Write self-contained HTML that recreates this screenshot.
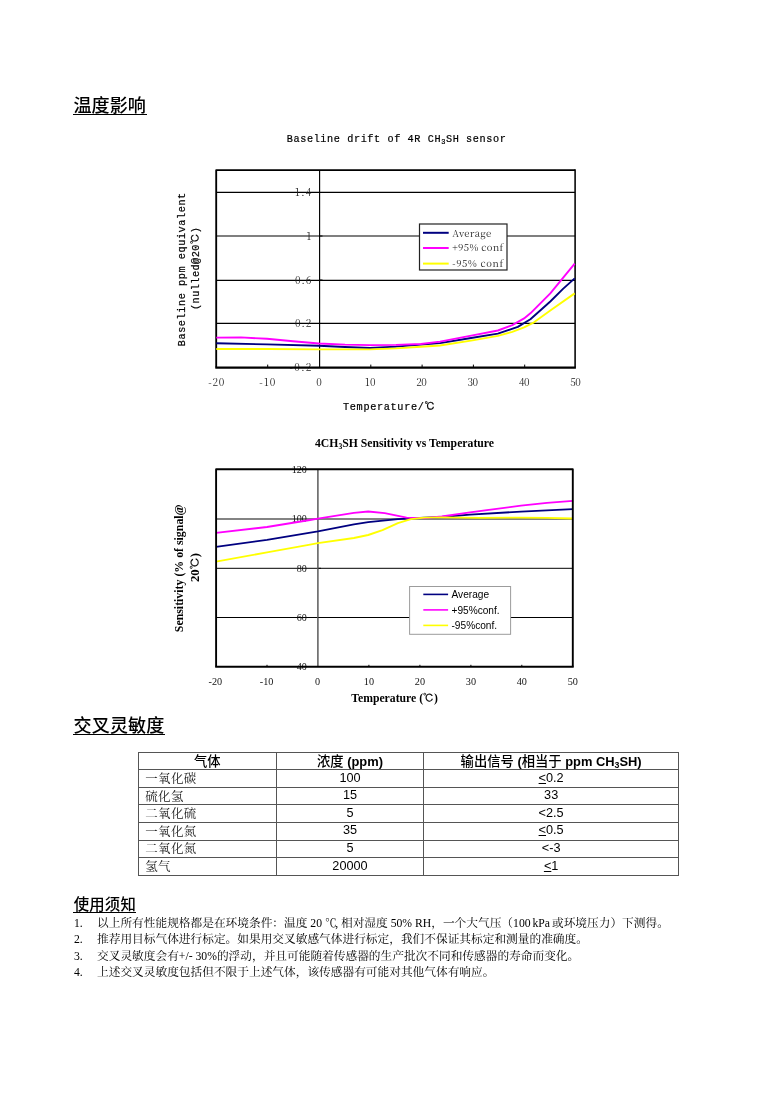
<!DOCTYPE html>
<html lang="zh-CN">
<head>
<meta charset="utf-8">
<title>温度影响</title>
<style>
html,body{margin:0;padding:0;background:#fff;}
body{width:774px;height:1095px;position:relative;overflow:hidden;color:#000;
  font-family:"Liberation Serif","Noto Serif CJK SC",serif;}
.h{position:absolute;white-space:nowrap;line-height:1;
  font-family:"Liberation Sans","Noto Sans CJK SC",sans-serif;font-weight:500;color:#000;}
.u{position:absolute;height:1px;background:#000;}
#h1{left:73.5px;top:97.3px;font-size:18.1px;}
#u1{left:73px;top:114px;width:74px;}
#h2{left:73.4px;top:717.1px;font-size:18.1px;letter-spacing:.15px;}
#u2{left:73px;top:734px;width:92px;}
#h3{left:73.7px;top:896.9px;font-size:15.4px;letter-spacing:.2px;}
#u3{left:73px;top:912px;width:63px;}
svg{position:absolute;left:0;top:0;}
.sng{font-family:"Noto Serif CJK SC",serif;font-weight:400;}
.mono{font-family:"Liberation Mono","Noto Serif CJK SC",monospace;}
.tms{font-family:"Liberation Serif","Noto Serif CJK SC",serif;}
.ari{font-family:"Liberation Sans","Noto Sans CJK SC",sans-serif;}
#tbl{position:absolute;left:0;top:0;}
#tbl i{position:absolute;display:block;background:#555;}
#tbl .hl{left:137.8px;width:541.2px;height:1px;}
#tbl .vl{top:751.7px;width:1px;height:124px;}
#tbl .c{position:absolute;height:17.57px;line-height:17.57px;text-align:center;white-space:nowrap;
  font-family:"Liberation Sans","Noto Sans CJK SC",sans-serif;font-size:12.7px;color:#000;}
#tbl .th{font-weight:700;margin-top:1.3px;font-size:12.9px;}
#tbl .th .z{font-weight:500;font-size:13.3px;}
#tbl .g{margin-top:.4px;}
#tbl .g{text-align:left;text-indent:7px;font-family:"Noto Serif CJK SC",serif;font-size:12.5px;letter-spacing:.3px;color:#1a1a1a;}
sub.s{font-size:68%;vertical-align:baseline;position:relative;top:1.5px;}
ol{position:absolute;left:74px;top:915.6px;margin:0;padding:0;list-style:none;font-size:11.7px;line-height:16.6px;color:#000;}
ol li{white-space:nowrap;}
ol li b{display:inline-block;width:23px;font-weight:400;}
</style>
</head>
<body>
<div class="h" id="h1">温度影响</div><div class="u" id="u1"></div>
<div class="h" id="h2">交叉灵敏度</div><div class="u" id="u2"></div>
<div class="h" id="h3">使用须知</div><div class="u" id="u3"></div>

<svg id="charts" width="774" height="1095" viewBox="0 0 774 1095">
<g id="c1">
<text class="mono" x="396.3" y="142.3" font-size="10.2" text-anchor="middle" font-weight="400" fill="#000" stroke="#000" stroke-width=".2" textLength="219" lengthAdjust="spacing">Baseline drift of 4R CH<tspan font-size="7" dy="1.5">3</tspan><tspan dy="-1.5">SH sensor</tspan></text>
<!-- gridlines -->
<g stroke="#000" stroke-width="1.15">
<line x1="216" x2="575" y1="192.3" y2="192.3"/>
<line x1="216" x2="575" y1="235.95" y2="235.95"/>
<line x1="216" x2="575" y1="280.35" y2="280.35"/>
<line x1="216" x2="575" y1="323.4" y2="323.4"/>
<line x1="319.6" x2="319.6" y1="170" y2="367"/>
</g>
<!-- y tick labels -->
<g class="sng" font-size="10" fill="#222" text-anchor="end">
<text x="311.3" y="196" textLength="16.2">1.4</text>
<text x="311.3" y="239.6">1</text>
<text x="311.3" y="283.8" textLength="16.2">0.6</text>
<text x="311.3" y="327.2" textLength="16.2">0.2</text>
<text x="311.3" y="371" textLength="21.7">-0.2</text>
</g>
<!-- border -->
<path d="M216.2,367.6 V170.1 H575" fill="none" stroke="#000" stroke-width="1.85" stroke-linejoin="round"/>
<path d="M575.1,169.2 V367.6" fill="none" stroke="#000" stroke-width="1.55"/>
<path d="M215.3,367.6 H575.9" fill="none" stroke="#000" stroke-width="2.1"/>
<!-- curves -->
<g fill="none" stroke-width="1.9" stroke-linejoin="round">
<path stroke="#000080" d="M216.3,343.3 L267,344.4 L319,345.8 L345,347.0 L370,348.0 L396,346.6 L421,344.6 L440,343.1 L472.6,337.7 L497.9,333.6 L517.8,326.9 L530.4,319.3 L550.3,301.5 L563,288.9 L574.7,278.4"/>
<path stroke="#ff00ff" d="M216.3,337.6 L241,337.4 L267,338.8 L293,341.2 L319,343.5 L345,344.6 L370,345.1 L396,344.9 L421,344.0 L440,341.6 L472.6,335.4 L497.9,330.5 L512.3,325.1 L524.1,318.4 L530.4,313.3 L550.3,293.4 L574.7,263.6"/>
<path stroke="#ffff00" d="M216.3,349.0 L267,349.0 L319,349.4 L370,349.4 L396,348.4 L421,346.8 L440,345.5 L472.6,340.4 L497.9,335.9 L512.3,331.8 L524.1,327.4 L534,322.3 L550.3,310.6 L574.7,293.4"/>
</g>
<!-- ticks -->
<g stroke="#000" stroke-width="1">
<path d="M267.7,364.6 V367 M370.8,364.6 V367 M422.1,364.6 V367 M473.4,364.6 V367 M524.7,364.6 V367"/>
<path d="M320,192.5 H322.5 M320,236 H322.5 M320,280 H322.5 M320,323.5 H322.5"/>
</g>
<!-- x tick labels -->
<g class="sng" font-size="10" fill="#222" text-anchor="middle">
<text x="216.3" y="385.8" textLength="16.2">-20</text>
<text x="267.3" y="385.8" textLength="16.2">-10</text>
<text x="319" y="385.8">0</text>
<text x="370.3" y="385.8" textLength="10.6">10</text>
<text x="421.6" y="385.8" textLength="10.6">20</text>
<text x="472.9" y="385.8" textLength="10.6">30</text>
<text x="524.2" y="385.8" textLength="10.6">40</text>
<text x="575.5" y="385.8" textLength="10.6">50</text>
</g>
<text class="mono" x="389" y="410" font-size="10.2" font-weight="400" fill="#000" stroke="#000" stroke-width=".2" text-anchor="middle" textLength="92" lengthAdjust="spacing">Temperature/<tspan font-family="IPAGothic" font-weight="400" font-size="10.5" stroke="#000" stroke-width=".2">℃</tspan></text>
<!-- y title -->
<text class="mono" transform="translate(184.6,269.5) rotate(-90)" font-size="10.2" font-weight="400" fill="#000" stroke="#000" stroke-width=".2" text-anchor="middle" textLength="153.5" lengthAdjust="spacing">Baseline ppm equivalent</text>
<text class="mono" transform="translate(199,268.5) rotate(-90)" font-size="10.2" font-weight="400" fill="#000" stroke="#000" stroke-width=".2" text-anchor="middle" textLength="83" lengthAdjust="spacing">(nulled@20<tspan font-family="IPAGothic" font-weight="400" font-size="10.5" stroke="#000" stroke-width=".2">℃</tspan>)</text>
<!-- legend -->
<rect x="419.5" y="224" width="87.5" height="46" fill="#fff" stroke="#222" stroke-width="1.2"/>
<g stroke-width="2">
<line x1="423" x2="448.7" y1="232.8" y2="232.8" stroke="#000080"/>
<line x1="423" x2="448.7" y1="248" y2="248" stroke="#ff00ff"/>
<line x1="423" x2="448.7" y1="263.6" y2="263.6" stroke="#ffff00"/>
</g>
<g class="sng" font-size="9.5" fill="#222">
<text x="452.2" y="236.6" textLength="39">Average</text>
<text x="452.2" y="251.4" textLength="51">+95% conf</text>
<text x="452.2" y="266.6" textLength="51">-95% conf</text>
</g>
</g>

<g id="c2">
<text class="tms" x="404.5" y="446.8" font-size="11.7" text-anchor="middle" font-weight="700" fill="#000" textLength="179" lengthAdjust="spacingAndGlyphs">4CH<tspan font-size="7.6" dy="1.8">3</tspan><tspan dy="-1.8">SH Sensitivity vs Temperature</tspan></text>
<!-- gridlines -->
<g stroke-width="1">
<line x1="216" x2="573" y1="518.9" y2="518.9" stroke="#5a5a5a" stroke-width="1.5"/>
<line x1="216" x2="573" y1="568.3" y2="568.3" stroke="#000"/>
<line x1="216" x2="573" y1="617.5" y2="617.5" stroke="#000"/>
<line x1="317.9" x2="317.9" y1="469" y2="667" stroke="#5a5a5a" stroke-width="1.5"/>
</g>
<!-- y tick labels -->
<g class="tms" font-size="10.1" fill="#111" text-anchor="end">
<text x="306.8" y="472.6">120</text>
<text x="306.8" y="522">100</text>
<text x="306.8" y="571.5">80</text>
<text x="306.8" y="620.8">60</text>
<text x="306.8" y="670.2">40</text>
</g>
<!-- curves -->
<g fill="none" stroke-width="1.85" stroke-linejoin="round">
<path stroke="#000080" d="M216,546.9 L267,539.8 L317.9,531.3 L353.9,524.4 L368.2,522.2 L397.9,519.2 L424.2,517.6 L441.8,517.0 L470,514.6 L521,511.6 L572.8,509.2"/>
<path stroke="#ff00ff" d="M216,532.8 L267,527.0 L310,520.0 L317.9,518.7 L353.9,512.8 L368.2,511.5 L384.7,513.2 L406.6,517.6 L424.2,518.1 L441.8,516.5 L470,512.4 L521,505.6 L547,502.8 L572.8,500.9"/>
<path stroke="#ffff00" d="M216,561.6 L267,552.4 L310,544.7 L317.9,543.2 L353.9,538 L368.2,535.0 L382.5,530.1 L397.9,523.1 L411,519.2 L424.2,517.6 L441.8,517.4 L480,517.8 L521,517.6 L547,517.8 L572.8,518.5"/>
</g>
<!-- ticks -->
<g stroke="#000" stroke-width="1">
<path d="M267,664.8 V667 M368.9,664.8 V667 M419.9,664.8 V667 M470.9,664.8 V667 M521.8,664.8 V667"/>
<path d="M318.5,568.3 H321 M318.5,617.5 H321"/>
</g>
<!-- border -->
<path d="M216.1,666.8 V469.3 H572.8 V666.8" fill="none" stroke="#000" stroke-width="1.9" stroke-linejoin="round"/>
<path d="M215.2,666.8 H573.7" fill="none" stroke="#000" stroke-width="1.95"/>
<!-- x tick labels -->
<g class="tms" font-size="10.2" fill="#111" text-anchor="middle">
<text x="215.4" y="685">-20</text>
<text x="266.6" y="685">-10</text>
<text x="317.6" y="685">0</text>
<text x="368.9" y="685">10</text>
<text x="419.9" y="685">20</text>
<text x="470.9" y="685">30</text>
<text x="521.8" y="685">40</text>
<text x="572.8" y="685">50</text>
</g>
<text class="tms" x="394.6" y="701.8" font-size="11.7" font-weight="700" fill="#000" text-anchor="middle" textLength="86.7" lengthAdjust="spacingAndGlyphs">Temperature (<tspan font-family="IPAGothic" font-weight="400" font-size="11" stroke="#000" stroke-width=".15">℃</tspan>)</text>
<!-- y title -->
<text class="tms" transform="translate(183.2,568.3) rotate(-90)" font-size="11.7" font-weight="700" fill="#000" text-anchor="middle" textLength="127.8" lengthAdjust="spacingAndGlyphs">Sensitivity (% of signal@</text>
<text class="tms" transform="translate(198.7,567.5) rotate(-90)" font-size="11.7" font-weight="700" fill="#000" text-anchor="middle" textLength="29" lengthAdjust="spacingAndGlyphs">20<tspan font-family="IPAGothic" font-weight="400" font-size="11" stroke="#000" stroke-width=".15">℃</tspan>)</text>
<!-- legend -->
<rect x="409.6" y="586.5" width="101" height="47.8" fill="#fff" stroke="#9c9c9c" stroke-width="1"/>
<g stroke-width="1.6">
<line x1="423.3" x2="448.1" y1="594.4" y2="594.4" stroke="#000080"/>
<line x1="423.3" x2="448.1" y1="609.9" y2="609.9" stroke="#ff00ff"/>
<line x1="423.3" x2="448.1" y1="625.4" y2="625.4" stroke="#ffff00"/>
</g>
<g class="ari" font-size="10.15" fill="#000">
<text x="451.5" y="598">Average</text>
<text x="451.5" y="613.6">+95%conf.</text>
<text x="451.5" y="628.9">-95%conf.</text>
</g>
</g>

</svg>

<div id="tbl">
<i class="hl" style="top:751.70px"></i>
<i class="hl" style="top:769.27px"></i>
<i class="hl" style="top:786.84px"></i>
<i class="hl" style="top:804.41px"></i>
<i class="hl" style="top:821.98px"></i>
<i class="hl" style="top:839.55px"></i>
<i class="hl" style="top:857.12px"></i>
<i class="hl" style="top:874.69px"></i>
<i class="vl" style="left:137.80px"></i>
<i class="vl" style="left:275.70px"></i>
<i class="vl" style="left:423.30px"></i>
<i class="vl" style="left:678.00px"></i>
<div class="c th" style="left:138.30px;width:137.90px;top:752.20px"><span class="z">气体</span></div>
<div class="c th" style="left:276.20px;width:147.60px;top:752.20px"><span class="z">浓度</span> (ppm)</div>
<div class="c th" style="left:423.80px;width:254.70px;top:752.20px"><span class="z">输出信号</span> (<span class="z">相当于</span> ppm CH<sub class="s">3</sub>SH)</div>
<div class="c g" style="left:138.30px;width:137.90px;top:769.77px">一氧化碳</div>
<div class="c n" style="left:276.20px;width:147.60px;top:769.77px">100</div>
<div class="c n" style="left:423.80px;width:254.70px;top:769.77px"><u>&lt;</u>0.2</div>
<div class="c g" style="left:138.30px;width:137.90px;top:787.34px">硫化氢</div>
<div class="c n" style="left:276.20px;width:147.60px;top:787.34px">15</div>
<div class="c n" style="left:423.80px;width:254.70px;top:787.34px">33</div>
<div class="c g" style="left:138.30px;width:137.90px;top:804.91px">二氧化硫</div>
<div class="c n" style="left:276.20px;width:147.60px;top:804.91px">5</div>
<div class="c n" style="left:423.80px;width:254.70px;top:804.91px">&lt;2.5</div>
<div class="c g" style="left:138.30px;width:137.90px;top:822.48px">一氧化氮</div>
<div class="c n" style="left:276.20px;width:147.60px;top:822.48px">35</div>
<div class="c n" style="left:423.80px;width:254.70px;top:822.48px"><u>&lt;</u>0.5</div>
<div class="c g" style="left:138.30px;width:137.90px;top:840.05px">二氧化氮</div>
<div class="c n" style="left:276.20px;width:147.60px;top:840.05px">5</div>
<div class="c n" style="left:423.80px;width:254.70px;top:840.05px">&lt;-3</div>
<div class="c g" style="left:138.30px;width:137.90px;top:857.62px">氢气</div>
<div class="c n" style="left:276.20px;width:147.60px;top:857.62px">20000</div>
<div class="c n" style="left:423.80px;width:254.70px;top:857.62px"><u>&lt;</u>1</div>
</div>

<ol>
<li><b>1.</b>以上所有性能规格都是在环境条件：温度 20 <span style="letter-spacing:-1.5px">℃</span>, 相对湿度 50% RH，一个大气压（<span style="word-spacing:-1px">100 kPa 或</span>环境压力）下测得。</li>
<li><b>2.</b>推荐用目标气体进行标定。如果用交叉敏感气体进行标定，我们不保证其标定和测量的准确度。</li>
<li><b>3.</b>交叉灵敏度会有+/- 30%的浮动，并且可能随着传感器的生产批次不同和传感器的寿命而变化。</li>
<li><b>4.</b>上述交叉灵敏度包括但不限于上述气体，该传感器有可能对其他气体有响应。</li>
</ol>
</body>
</html>
